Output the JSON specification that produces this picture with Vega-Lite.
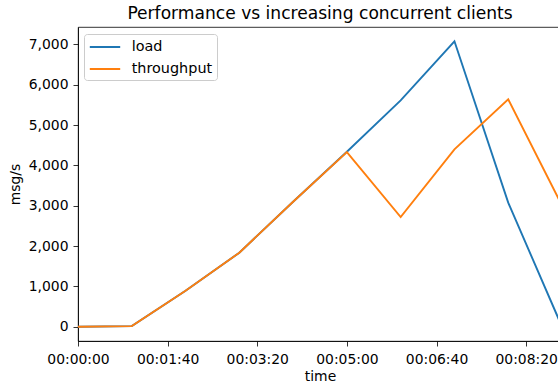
{
  "$schema": "https://vega.github.io/schema/vega-lite/v6.json",
  "width": 484,
  "height": 314,
  "autosize": {"type": "none"},
  "padding": {"left": 78, "top": 27, "right": 0, "bottom": 42},
  "title": {
    "text": "Performance vs increasing concurrent clients",
    "fontSize": 17.1,
    "font": "DejaVu Sans",
    "fontWeight": "normal",
    "color": "black",
    "anchor": "middle",
    "baseline": "alphabetic",
    "offset": 8.5,
    "dy": 18
  },
  "data": {
    "values": [
      {"time": 0, "series": "load", "value": 0},
      {"time": 60, "series": "load", "value": 15},
      {"time": 120, "series": "load", "value": 893},
      {"time": 180, "series": "load", "value": 1836},
      {"time": 240, "series": "load", "value": 3100},
      {"time": 300, "series": "load", "value": 4340},
      {"time": 360, "series": "load", "value": 5615},
      {"time": 420, "series": "load", "value": 7079},
      {"time": 480, "series": "load", "value": 3077},
      {"time": 540, "series": "load", "value": 0},
      {"time": 0, "series": "throughput", "value": 0},
      {"time": 60, "series": "throughput", "value": 15},
      {"time": 120, "series": "throughput", "value": 893},
      {"time": 180, "series": "throughput", "value": 1836},
      {"time": 240, "series": "throughput", "value": 3100},
      {"time": 300, "series": "throughput", "value": 4332},
      {"time": 360, "series": "throughput", "value": 2720},
      {"time": 420, "series": "throughput", "value": 4400},
      {"time": 480, "series": "throughput", "value": 5640},
      {"time": 540, "series": "throughput", "value": 3006}
    ]
  },
  "mark": {"type": "line", "strokeWidth": 1.9, "clip": true},
  "encoding": {
    "x": {
      "field": "time",
      "type": "quantitative",
      "title": "time",
      "scale": {"domain": [0, 540], "nice": false, "zero": false},
      "axis": {
        "values": [0, 100, 200, 300, 400, 500],
        "labelExpr": "utcFormat(datum.value * 1000, '%H:%M:%S')",
        "labelFlush": false,
        "labelOverlap": false,
        "labelPadding": 6,
        "titlePadding": 4
      }
    },
    "y": {
      "field": "value",
      "type": "quantitative",
      "title": "msg/s",
      "scale": {"domain": [-354, 7434], "nice": false, "zero": false},
      "axis": {
        "values": [0, 1000, 2000, 3000, 4000, 5000, 6000, 7000],
        "format": ",d",
        "titlePadding": 6
      }
    },
    "color": {
      "field": "series",
      "type": "nominal",
      "title": null,
      "scale": {"domain": ["load", "throughput"], "range": ["#1f77b4", "#ff7f0e"]},
      "legend": {
        "orient": "none",
        "legendX": 6,
        "legendY": 7,
        "symbolType": "M-1.9,0H1.9",
        "symbolSize": 256,
        "symbolStrokeWidth": 2,
        "symbolOffset": 8,
        "labelFontSize": 14.4,
        "labelFont": "DejaVu Sans",
        "labelColor": "black",
        "labelOffset": 17.7,
        "padding": 4,
        "rowPadding": 6,
        "fillColor": "rgba(255,255,255,0.8)",
        "strokeColor": "#cccccc",
        "cornerRadius": 3
      }
    }
  },
  "config": {
    "font": "DejaVu Sans",
    "view": {"stroke": "black", "strokeWidth": 0.8},
    "axis": {
      "grid": false,
      "domainColor": "black",
      "domainWidth": 0.8,
      "tickColor": "black",
      "tickWidth": 0.8,
      "tickSize": 5,
      "labelPadding": 5,
      "labelFontSize": 13.9,
      "labelColor": "black",
      "labelFont": "DejaVu Sans",
      "titleFont": "DejaVu Sans",
      "titleFontSize": 13.9,
      "titleFontWeight": "normal",
      "titleColor": "black"
    }
  }
}
